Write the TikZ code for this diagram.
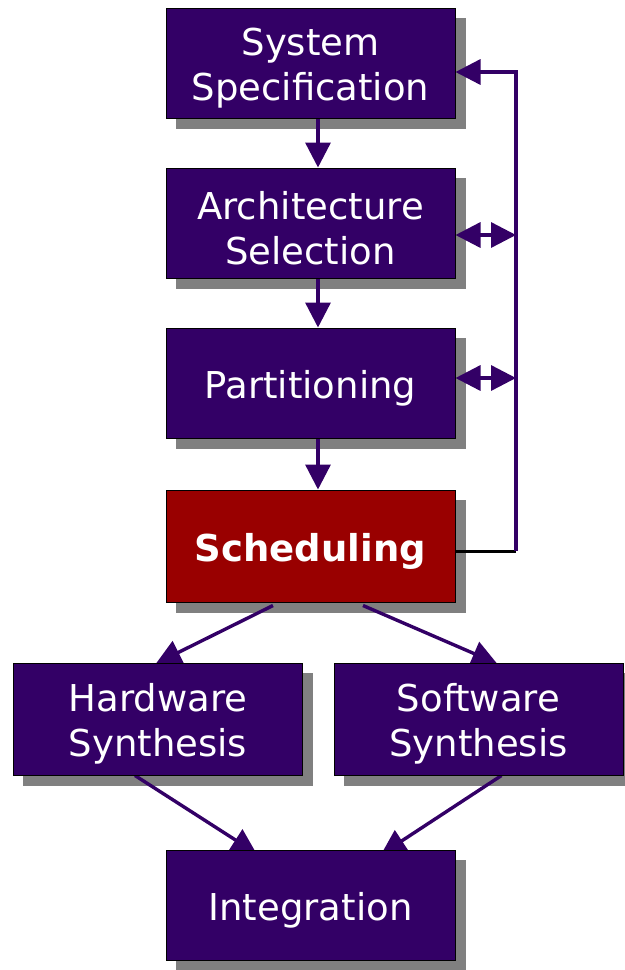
\documentclass[tikz,border=0pt]{standalone}
\usepackage{fontspec}
\setmainfont{DejaVu Sans}
\usetikzlibrary{arrows.meta,calc}
\definecolor{boxpurple}{RGB}{51,0,102}
\definecolor{boxred}{RGB}{153,0,0}
\definecolor{shadowgray}{RGB}{128,128,128}
\pgfdeclarelayer{shadowlayer}
\pgfdeclarelayer{linelayer}
\pgfsetlayers{shadowlayer,linelayer,main}
\newcommand\tup{\rule{0pt}{19pt}}
\begin{document}
\begin{tikzpicture}[x=0.5pt,y=-0.5pt,
  box/.style={draw=black,line width=0.5pt,fill=boxpurple,text=white,
    minimum width=144.5pt,minimum height=55pt,align=center,inner sep=0pt,
    font=\fontsize{18.5}{22.5}\selectfont},
  tallbox/.style={box,minimum height=56pt},
  redbox/.style={tallbox,fill=boxred,font=\fontsize{18.5}{22.5}\selectfont\bfseries},
  link/.style={draw=boxpurple,line width=1.7pt},
  arr/.style={link,-{Triangle[length=12.5pt,width=12.5pt]}},
  dbl/.style={link,{Triangle[length=12.5pt,width=12.5pt]}-{Triangle[length=12.5pt,width=12.5pt]}},
  blackline/.style={draw=black,line width=1.5pt},
  shadowfill/.style={fill=shadowgray}]
\useasboundingbox (0,0) rectangle (625,970);

\node[box] (spec) at (310.5,63) {\tup System\\Specification};
\node[box] (arch) at (310.5,223) {\tup Architecture\\Selection};
\node[box] (part) at (310.5,383) {\tup Partitioning};
\node[redbox] (sched) at (310.5,546) {\tup Scheduling};
\node[tallbox] (hw) at (158,719) {\tup Hardware\\Synthesis};
\node[tallbox] (sw) at (478.5,719) {\tup Software\\Synthesis};
\node[box] (integ) at (310.5,905) {\tup Integration};

\coordinate (cx) at (318,0);
\coordinate (fbtop) at (516,72);
\coordinate (fbbot) at (516,551);
\coordinate (d1) at (516,235);
\coordinate (d2) at (516,378);

\begin{pgfonlayer}{shadowlayer}
  \foreach \n in {spec,arch,part,sched,hw,sw,integ}
    \fill[shadowfill] ($(\n.north west)+(10,10)$) rectangle ($(\n.south east)+(10,10)$);
\end{pgfonlayer}

\begin{pgfonlayer}{linelayer}
  \draw[arr] (spec.south -| cx) -- (arch.north -| cx);
  \draw[arr] (arch.south -| cx) -- (part.north -| cx);
  \draw[arr] (part.south -| cx) -- (sched.north -| cx);
  \draw[blackline] (sched.east |- fbbot) -- (fbbot);
  \draw[arr] (fbbot) -- (fbtop) -- (spec.east |- fbtop);
  \draw[dbl] (arch.east |- d1) -- (d1);
  \draw[dbl] (part.east |- d2) -- (d2);
  \draw[arr] ($(sched.south)+(-37.5,3)$) -- ($(hw.north)+(-2,1)$);
  \draw[arr] ($(sched.south)+(52.5,3)$) -- ($(sw.north)+(18.5,1)$);
  \draw[arr] ($(hw.south)+(-23,0)$) -- ($(integ.north)+(-54,4)$);
  \draw[arr] ($(sw.south)+(23,0)$) -- ($(integ.north)+(70.5,5)$);
\end{pgfonlayer}
\end{tikzpicture}
\end{document}
